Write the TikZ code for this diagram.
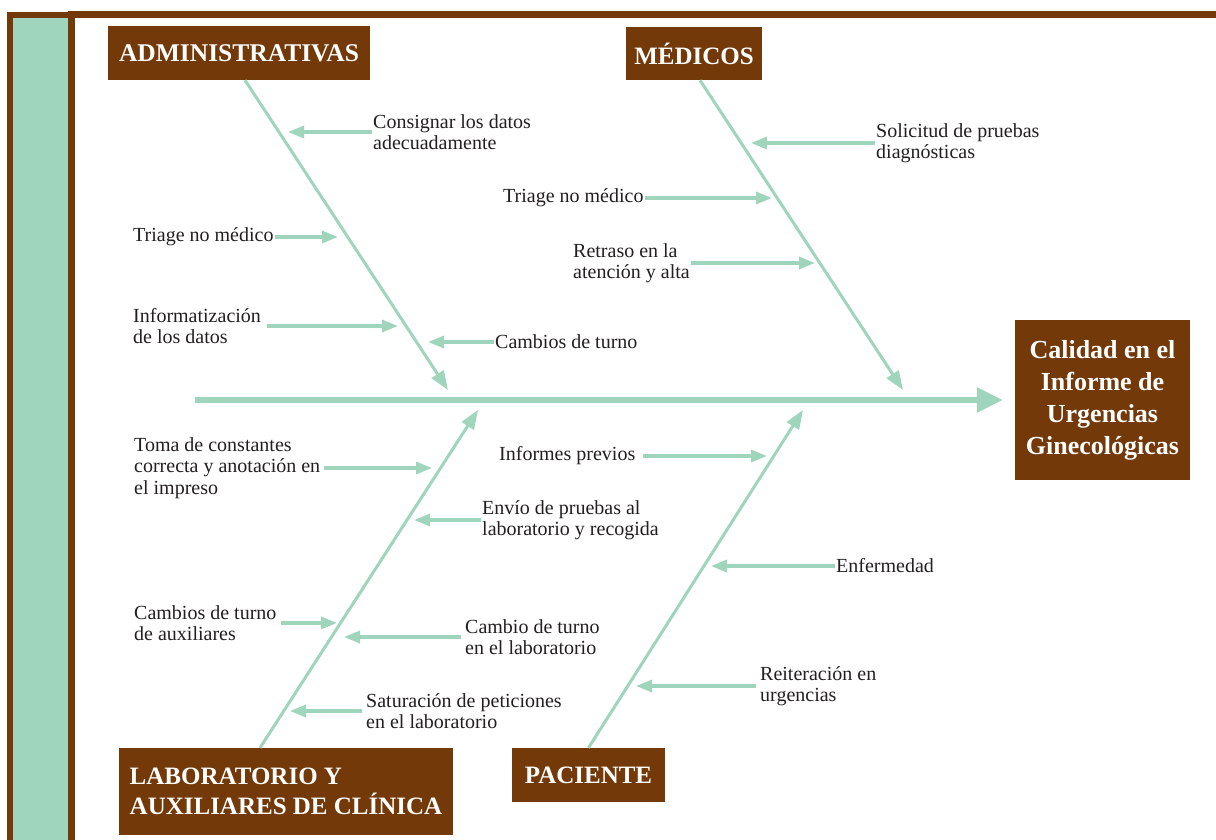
\documentclass[tikz,border=0pt]{standalone}
\usepackage{fontspec}
\setmainfont{Liberation Serif}
\usetikzlibrary{arrows.meta,calc}
\definecolor{brn}{RGB}{115,57,8}
\definecolor{grn}{RGB}{160,213,189}
\definecolor{txt}{RGB}{35,31,32}
\begin{document}
\begin{tikzpicture}[x=1pt,y=-1pt,
  hdr/.style={fill=brn, text=white, font=\fontsize{25}{30}\selectfont\bfseries, inner sep=0pt, align=center},
  lbl/.style={font=\fontsize{20}{21.5}\selectfont, text=txt, align=left, inner sep=1pt, anchor=west},
  bone/.style={draw=grn, line width=3pt, -{Triangle[length=19pt,width=14pt]}},
  sarr/.style={draw=grn, line width=3.2pt, -{Triangle[length=16pt,width=12pt]}},
  spine/.style={draw=grn, line width=6pt, -{Triangle[length=26pt,width=24pt]}},
]
\useasboundingbox (0,0) rectangle (1216,840);
% frame
\fill[grn] (10,15) rectangle (71,845);
\draw[brn, line width=6pt] (10,850) -- (10,15.5) -- (71,15.5);
\draw[brn, line width=7.5pt] (71.5,850) -- (71.5,14.5) -- (1230,14.5);

% headers
\node[hdr, minimum width=262pt, minimum height=54pt, font=\fontsize{25.5}{30}\selectfont\bfseries] (adm) at (239,53) {ADMINISTRATIVAS};
\node[hdr, minimum width=136pt, minimum height=53pt] (med) at (694,53.5) {MÉDICOS};
\node[hdr, minimum width=334pt, minimum height=87pt, align=left] (lab) at (286,791.5) {LABORATORIO Y\\AUXILIARES DE CLÍNICA};
\node[hdr, minimum width=153pt, minimum height=54pt] (pac) at (588.5,775) {PACIENTE};
\node[hdr, minimum width=175pt, minimum height=160pt, font=\fontsize{26}{32}\selectfont\bfseries] (cal) at (1102.5,400) {Calidad en el\\Informe de\\Urgencias\\Ginecológicas};

% spine
\coordinate (sp) at (195,400);
\draw[spine] (sp) -- ([xshift=-12pt]cal.west);

% bones
\coordinate (admtip) at (448,390);
\coordinate (medtip) at (903,390);
\coordinate (labtip) at (478,410);
\coordinate (pactip) at (803,410);
\draw[bone] ([xshift=6pt]adm.south) -- (admtip);
\draw[bone] ([xshift=6pt]med.south) -- (medtip);
\draw[bone] ([xshift=-26pt]lab.north) -- (labtip);
\draw[bone] (pac.north) -- (pactip);

% administrativas causes
\node[lbl] (a1) at (372,132) {Consignar los datos\\adecuadamente};
\coordinate (a1t) at (288,132);
\draw[sarr] (a1.west) -- (a1t);
\node[lbl] (a2) at (132,237) {Triage no médico};
\coordinate (a2t) at (338,237);
\draw[sarr] (a2.east) -- (a2t);
\node[lbl] (a3) at (132,326) {Informatización\\de los datos};
\coordinate (a3t) at (398,326);
\draw[sarr, shorten <=5pt] (a3.east) -- (a3t);
\node[lbl] (a4) at (494,342) {Cambios de turno};
\coordinate (a4t) at (428,342);
\draw[sarr] (a4.west) -- (a4t);

% medicos causes
\node[lbl] (m1) at (875,143) {Solicitud de pruebas\\diagnósticas};
\coordinate (m1t) at (751,143);
\draw[sarr] (m1.west) -- (m1t);
\node[lbl] (m2) at (502,198) {Triage no médico};
\coordinate (m2t) at (772,198);
\draw[sarr] (m2.east) -- (m2t);
\node[lbl] (m3) at (572,263) {Retraso en la\\atención y alta};
\coordinate (m3t) at (815,263);
\draw[sarr] (m3.east) -- (m3t);

% laboratorio causes
\node[lbl] (l1) at (133,468) {Toma de constantes\\correcta y anotación en\\el impreso};
\coordinate (l1t) at (432,468);
\draw[sarr, shorten <=3pt] (l1.east) -- (l1t);
\node[lbl] (l2) at (481,520) {Envío de pruebas al\\laboratorio y recogida};
\coordinate (l2t) at (414,520);
\draw[sarr] (l2.west) -- (l2t);
\node[lbl] (l3) at (133,623) {Cambios de turno\\de auxiliares};
\coordinate (l3t) at (337,623);
\draw[sarr, shorten <=3pt] (l3.east) -- (l3t);
\node[lbl] (l4) at (464,637) {Cambio de turno\\en el laboratorio};
\coordinate (l4t) at (344,637);
\draw[sarr, shorten <=3pt] (l4.west) -- (l4t);
\node[lbl] (l5) at (365,711) {Saturación de peticiones\\en el laboratorio};
\coordinate (l5t) at (290,711);
\draw[sarr, shorten <=3pt] (l5.west) -- (l5t);

% paciente causes
\node[lbl] (p1) at (498,456) {Informes previos};
\coordinate (p1t) at (767,456);
\draw[sarr, shorten <=7pt] (p1.east) -- (p1t);
\node[lbl] (p2) at (835,566) {Enfermedad};
\coordinate (p2t) at (711,566);
\draw[sarr] (p2.west) -- (p2t);
\node[lbl] (p3) at (759,686) {Reiteración en\\urgencias};
\coordinate (p3t) at (636,686);
\draw[sarr, shorten <=3pt] (p3.west) -- (p3t);
\end{tikzpicture}
\end{document}
